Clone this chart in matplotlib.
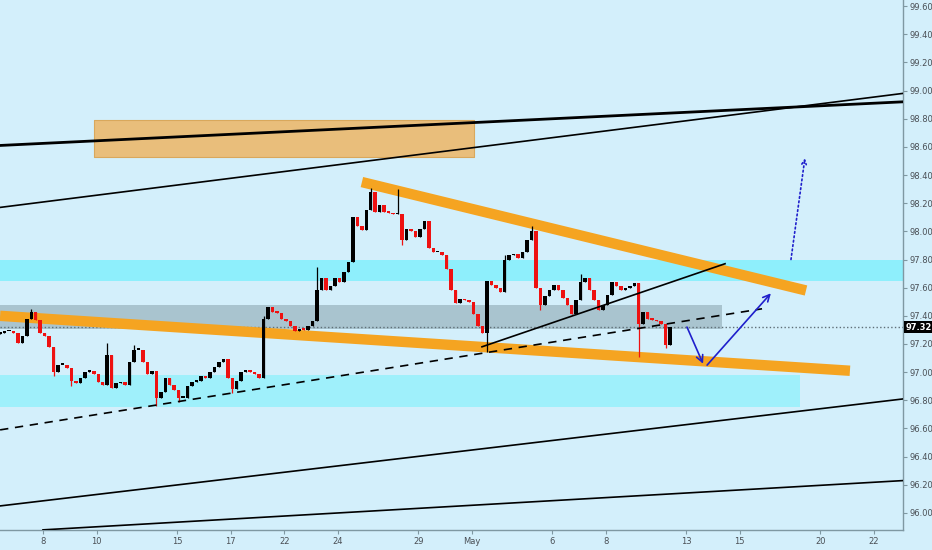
import numpy as np
import matplotlib
matplotlib.use('Agg')
import matplotlib.pyplot as plt

# closing prices, 6 candles per trading day (4h bars), starting Apr 4
closes = [97.28, 97.29, 97.29, 97.28, 97.21, 97.26, 97.38, 97.43, 97.37, 97.28,
          97.26, 97.18, 97.00, 97.05, 97.05, 97.03, 96.94, 96.92, 96.96, 97.00,
          97.01, 96.99, 96.93, 96.91, 97.12, 96.89, 96.92, 96.93, 96.91, 97.07,
          97.16, 97.16, 97.07, 96.99, 97.01, 96.82, 96.86, 96.96, 96.91, 96.87,
          96.82, 96.82, 96.90, 96.93, 96.94, 96.97, 96.96, 97.00, 97.04, 97.07,
          97.09, 96.96, 96.88, 96.94, 97.00, 97.01, 97.00, 96.99, 96.96, 97.38,
          97.46, 97.43, 97.42, 97.38, 97.36, 97.33, 97.29, 97.31, 97.30, 97.33,
          97.36, 97.58, 97.67, 97.58, 97.61, 97.67, 97.64, 97.71, 97.78, 98.10,
          98.04, 98.01, 98.15, 98.28, 98.14, 98.19, 98.14, 98.13, 98.12, 98.12,
          97.94, 98.02, 98.00, 97.96, 98.02, 98.07, 97.88, 97.85, 97.85, 97.83,
          97.73, 97.58, 97.49, 97.52, 97.51, 97.50, 97.41, 97.33, 97.28, 97.65,
          97.62, 97.60, 97.57, 97.80, 97.83, 97.84, 97.81, 97.85, 97.94, 98.00,
          97.60, 97.48, 97.54, 97.58, 97.62, 97.58, 97.53, 97.48, 97.41, 97.51,
          97.64, 97.67, 97.58, 97.51, 97.44, 97.48, 97.55, 97.64, 97.61, 97.58,
          97.60, 97.61, 97.63, 97.34, 97.43, 97.38, 97.37, 97.36, 97.34, 97.19,
          97.32]
first_open = 97.27
wick_hi = {7: 97.45, 24: 97.21, 30: 97.19, 59: 97.40, 71: 97.75, 83: 98.31,
           89: 98.30, 113: 97.83, 119: 98.04, 130: 97.70}
wick_lo = {12: 96.97, 16: 96.90, 35: 96.76, 40: 96.79, 52: 96.85, 90: 97.90,
           109: 97.14, 121: 97.44, 143: 97.11, 149: 97.17}

# trading-day axis (Apr 19 holiday skipped), 0 = Apr 8
tick_days = [0, 2, 5, 7, 9, 11, 14, 16, 19, 21, 24, 26, 29, 31]
tick_labels = ['8', '10', '15', '17', '22', '24', '29', 'May', '6', '8', '13', '15', '20', '22']
price_ticks = [96.0, 96.2, 96.4, 96.6, 96.8, 97.0, 97.2, 97.4, 97.6, 97.8,
               98.0, 98.2, 98.4, 98.6, 98.8, 99.0, 99.2, 99.4, 99.6]
last_price = 97.32

# drawings (day, price)
top_box = (1.90, 16.08, 98.53, 98.79)
cyan_hi = (97.65, 97.80)
grey_zone = (25.34, 97.31, 97.48)
cyan_lo = (28.25, 96.75, 96.98)
wedge_low = [(-1.6, 97.40), (30.11, 97.01)]
wedge_high = [(11.90, 98.35), (28.47, 97.58)]
thick_black = [(-1.6, 98.61), (32.1, 98.92)]
thin_black = [(-1.6, 98.17), (32.1, 98.98)]
mid_black = [(-1.6, 96.05), (32.1, 96.81)]
low_black = [(0.0, 95.88), (32.1, 96.23)]
dashed = [(-1.6, 96.59), (26.83, 97.45)]
trend = [(16.38, 97.18), (25.45, 97.77)]
arrow1 = [(24.03, 97.32), (24.63, 97.06)]
arrow2 = [(24.78, 97.05), (27.16, 97.56)]
arrow3 = [(27.91, 97.80), (28.43, 98.52)]

bg = '#d3effb'
fig = plt.figure(figsize=(9.32, 5.5), dpi=100, facecolor=bg)
ax = fig.add_axes([0, 20 / 550, 903 / 932, 530 / 550], facecolor=bg)

x0, x1 = -1.604, 32.09
ax.set_xlim(x0, x1)
ax.set_ylim(95.879, 99.643)

# zones
ax.axhspan(cyan_hi[0], cyan_hi[1], color='#8eeffc', zorder=1, lw=0)
ax.fill_between([x0, grey_zone[0]], grey_zone[1], grey_zone[2], color='#a9c4cf', zorder=1, lw=0)
ax.fill_between([x0, cyan_lo[0]], cyan_lo[1], cyan_lo[2], color='#9ff0fb', zorder=1, lw=0)
ax.fill_between([top_box[0], top_box[1]], top_box[2], top_box[3], color='#e9be7b', ec='#d9a85c', lw=0.8, zorder=1)

ax.axhline(last_price, color='#5f6f77', ls=':', lw=1, zorder=2)

for seg in [wedge_low, wedge_high]:
    ax.plot([p[0] for p in seg], [p[1] for p in seg], color='#f5a421', lw=7.5,
            solid_capstyle='butt', zorder=3)

# candles
n = len(closes)
t = x0 + np.arange(n) / 6.0
opens = [first_open] + closes[:-1]
for i in range(n):
    o, c = opens[i], closes[i]
    col = 'black' if c >= o else '#ee1111'
    hi = max(o, c, wick_hi.get(i, -1))
    lo = min(o, c, wick_lo.get(i, 999))
    ax.vlines(t[i], lo, hi, color=col, lw=0.9, zorder=4)
    ax.bar(t[i], max(abs(c - o), 0.012), bottom=min(o, c), width=0.13,
           color=col, lw=0, zorder=4)

for seg, lw, ls in [(thick_black, 2.0, '-'), (thin_black, 1.2, '-'), (mid_black, 1.2, '-'),
                    (low_black, 1.2, '-'), (dashed, 1.2, (0, (5, 4))), (trend, 1.2, '-')]:
    ax.plot([p[0] for p in seg], [p[1] for p in seg], color='black', lw=lw, ls=ls, zorder=5)

blue = '#1f1fcc'
for seg in [arrow1, arrow2]:
    ax.annotate('', xy=seg[1], xytext=seg[0],
                arrowprops=dict(arrowstyle='->', color=blue, lw=1.2, mutation_scale=12,
                                shrinkA=0, shrinkB=0), zorder=6)
ax.annotate('', xy=arrow3[1], xytext=arrow3[0],
            arrowprops=dict(arrowstyle='->', color=blue, lw=1.2, ls=':', mutation_scale=8,
                            shrinkA=0, shrinkB=0), zorder=6)

# axes styling
for s in ['top', 'left']:
    ax.spines[s].set_visible(False)
for s in ['right', 'bottom']:
    ax.spines[s].set_color('#7f98a2')
    ax.spines[s].set_linewidth(1)
ax.yaxis.tick_right()
ax.set_yticks(price_ticks)
ax.set_yticklabels(['%.2f' % p for p in price_ticks])
ax.set_xticks(tick_days)
ax.set_xticklabels(tick_labels)
ax.tick_params(axis='both', colors='#7f98a2', labelcolor='#4a4f55', labelsize=6, length=3, pad=2)

ax.text(1.003, last_price, '%.2f' % last_price, transform=ax.get_yaxis_transform(),
        ha='left', va='center', color='white', fontsize=6, fontweight='bold',
        bbox=dict(fc='black', ec='none', pad=1.2), zorder=10, clip_on=False)

fig.savefig('out.png', dpi=100, facecolor=bg)
